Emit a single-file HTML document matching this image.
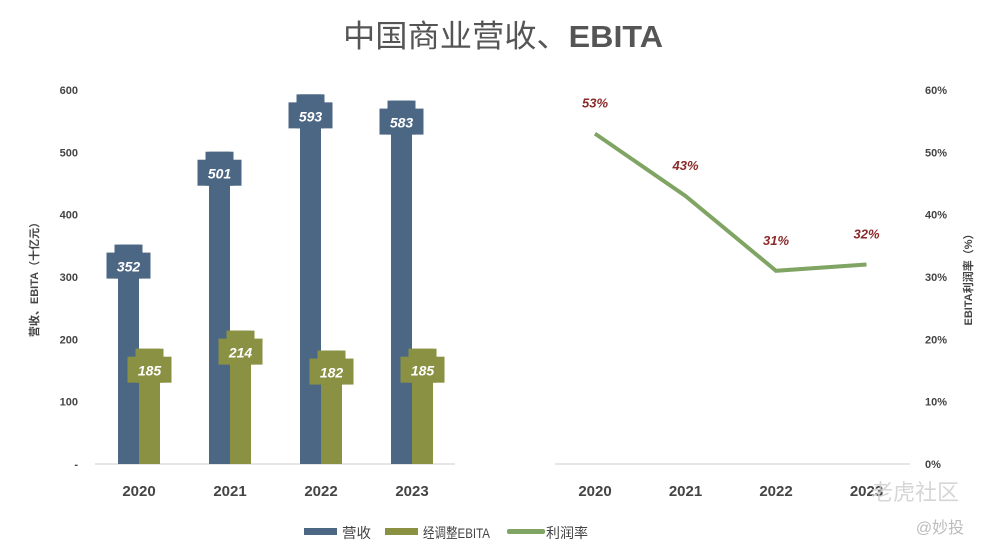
<!DOCTYPE html>
<html><head><meta charset="utf-8"><style>
body{margin:0;background:#fff;}
svg text{font-family:"Liberation Sans","Noto Sans CJK SC",sans-serif;}
</style></head><body>
<svg id="c" width="1000" height="553" xmlns="http://www.w3.org/2000/svg">
<text x="343" y="47" textLength="320" lengthAdjust="spacingAndGlyphs" font-size="31" fill="#555">中国商业营收、<tspan font-weight="bold">EBITA</tspan></text>
<g id="g"></g>
<g>
<rect x="304" y="528" width="33" height="7" fill="#4b6784"/>
<text x="342" y="538" font-size="14" textLength="29" lengthAdjust="spacingAndGlyphs" fill="#444">营收</text>
<rect x="385" y="528" width="33" height="7" fill="#8a9143"/>
<text x="423" y="538" font-size="14" textLength="67" lengthAdjust="spacingAndGlyphs" fill="#444">经调整EBITA</text>
<rect x="507" y="529" width="38" height="5" rx="2" fill="#7fa463"/>
<text x="546" y="538" font-size="14" textLength="42" lengthAdjust="spacingAndGlyphs" fill="#444">利润率</text>
</g>
<text x="940" y="533" text-anchor="middle" font-size="16" fill="#bbb">@妙投</text>
<text x="915" y="500" text-anchor="middle" font-size="22" fill="#ccc" opacity="0.8">老虎社区</text>
<text transform="translate(38,277) rotate(-90)" text-anchor="middle" font-size="11" font-weight="bold" fill="#444">营收、EBITA（十亿元）</text>
<text transform="translate(972,277) rotate(-90)" text-anchor="middle" font-size="11" font-weight="bold" fill="#444">EBITA利润率（%）</text>
</svg>
<script>
const years=["2020","2021","2022","2023"];
const revenue=[352,501,593,583];
const ebita=[185,214,182,185];
const margin=[53,43,31,32];
const leftTicks=["-","100","200","300","400","500","600"];
const rightTicks=["0%","10%","20%","30%","40%","50%","60%"];
const NS="http://www.w3.org/2000/svg";
const g=document.getElementById('g');
function el(t,a,txt){const e=document.createElementNS(NS,t);for(const k in a)e.setAttribute(k,a[k]);if(txt!==undefined)e.textContent=txt;g.appendChild(e);return e;}
const y0=464,yTop=90;
const yL=v=>y0-v/600*(y0-yTop);
const yR=v=>y0-v/60*(y0-yTop);
const xL=i=>139+i*91;
const xR=i=>595+i*90.5;
let e;
e=el('line',{x1:95,x2:455,y1:y0,y2:y0,stroke:'#ccc'});


e=el('line',{x1:555,x2:910,y1:y0,y2:y0,stroke:'#ccc'});


leftTicks.forEach((t,i)=>{
 e=el('text',{x:78,y:yL(i*100)+4,'text-anchor':'end','font-size':11,'font-weight':'bold',fill:'#444'},t);
 
 
});
rightTicks.forEach((t,i)=>{
 e=el('text',{x:925,y:yR(i*10)+4,'text-anchor':'start','font-size':11,'font-weight':'bold',fill:'#444'},t);
 
 
});
years.forEach((yr,i)=>{
 e=el('text',{x:xL(i),y:496,'text-anchor':'middle','font-size':15,'font-weight':'bold',fill:'#444'},yr);
 
 
 e=el('text',{x:xR(i),y:496,'text-anchor':'middle','font-size':15,'font-weight':'bold',fill:'#444'},yr);
 
 
});
function bar(x,v,col,name){
 const top=yL(v);
 e=el('rect',{x:x,y:top,width:21,height:y0-top,fill:col});
 
 
 const cx=x+10.5;
 e=el('rect',{x:cx-14,y:top,width:28,height:34,fill:col});
 
 
 e=el('rect',{x:cx-22,y:top+8,width:44,height:26,fill:col});
 
 
 e=el('text',{x:cx,y:top+27,'text-anchor':'middle','font-size':14,'font-weight':'bold','font-style':'italic',fill:'#fff'},v);
 
 
}
years.forEach((yr,i)=>{
 bar(xL(i)-21,revenue[i],'#4b6784','bar-revenue-'+yr);
 bar(xL(i),ebita[i],'#8a9143','bar-ebita-'+yr);
});
e=el('polyline',{points:margin.map((m,i)=>xR(i)+','+yR(m)).join(' '),fill:'none',stroke:'#7fa463','stroke-width':4});


margin.forEach((m,i)=>{
 e=el('text',{x:xR(i),y:yR(m)-26,'text-anchor':'middle','font-size':13,'font-weight':'bold','font-style':'italic',fill:'#8b2a2a'},m+'%');
 
 
});
</script>
</body></html>
